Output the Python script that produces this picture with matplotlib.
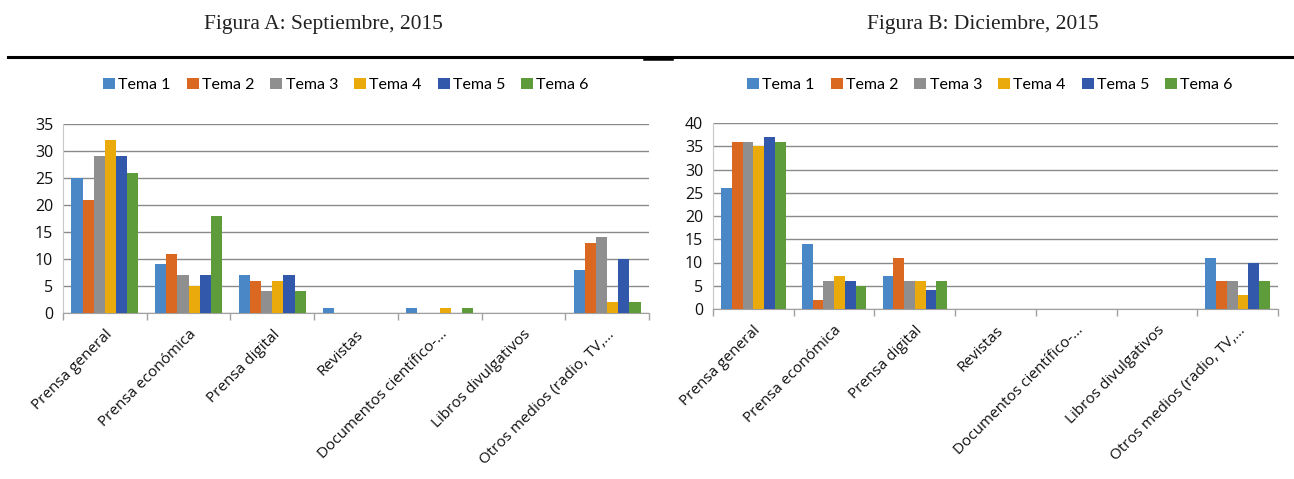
import numpy as np
import matplotlib
matplotlib.use("Agg")
import matplotlib.pyplot as plt
from matplotlib.lines import Line2D

# datos
categorias = ["Prensa general", "Prensa económica", "Prensa digital", "Revistas",
              "Documentos científico-…", "Libros divulgativos", "Otros medios (radio, TV,…"]
temas = ["Tema 1", "Tema 2", "Tema 3", "Tema 4", "Tema 5", "Tema 6"]
colores = ["#4A87C6", "#DA6820", "#8F8F8F", "#EBAA0C", "#3158AA", "#5E9B3A"]

# Figura A: septiembre 2015 (una lista por tema)
sep_t1 = [25, 9, 7, 1, 1, 0, 8]
sep_t2 = [21, 11, 6, 0, 0, 0, 13]
sep_t3 = [29, 7, 4, 0, 0, 0, 14]
sep_t4 = [32, 5, 6, 0, 1, 0, 2]
sep_t5 = [29, 7, 7, 0, 0, 0, 10]
sep_t6 = [26, 18, 4, 0, 1, 0, 2]

# Figura B: diciembre 2015
dic_t1 = [26, 14, 7, 0, 0, 0, 11]
dic_t2 = [36, 2, 11, 0, 0, 0, 6]
dic_t3 = [36, 6, 6, 0, 0, 0, 6]
dic_t4 = [35, 7, 6, 0, 0, 0, 3]
dic_t5 = [37, 6, 4, 0, 0, 0, 10]
dic_t6 = [36, 5, 6, 0, 0, 0, 6]

W, H = 1294, 479
fig = plt.figure(figsize=(W / 100, H / 100), dpi=100)


def px(left, top, right, bottom):
    return [left / W, 1 - bottom / H, (right - left) / W, (bottom - top) / H]


def panel(rect, series, ymax, title, title_x, legend_x):
    ax = fig.add_axes(rect)
    n = len(series)
    x = np.arange(len(categorias))
    bw = 0.8 / n
    for i, vals in enumerate(series):
        ax.bar(x - 0.4 + bw * (i + 0.5), vals, width=bw, color=colores[i],
               label=temas[i], zorder=3)
    ax.set_xlim(-0.5, len(categorias) - 0.5)
    ax.set_ylim(0, ymax)
    ax.set_yticks(np.arange(0, ymax + 1, 5))
    ax.grid(axis="y", color="#8A8A8A", lw=1.0, zorder=0)
    for s in ["top", "right"]:
        ax.spines[s].set_visible(False)
    ax.spines["left"].set_color("#C8C8C8")
    ax.spines["bottom"].set_color("#A0A0A0")
    ax.tick_params(axis="y", length=0, labelsize=11.5, pad=7, labelcolor="#111111")
    ax.set_xticks(x)
    ax.set_xticklabels(categorias, rotation=45, ha="right", rotation_mode="anchor",
                       fontsize=11, family="Open Sans", color="#111111")
    ax.tick_params(axis="x", which="major", length=0, pad=10)
    ax.set_xticks(np.arange(-0.5, len(categorias)), minor=True)
    ax.tick_params(axis="x", which="minor", length=5, color="#A0A0A0", width=1)
    for lab in ax.get_yticklabels():
        lab.set_family("Open Sans")
    fig.text(title_x / W, 1 - 25 / H, title, ha="center", va="center",
             fontsize=15.5, family="Liberation Serif", color="#222222")
    h, l = ax.get_legend_handles_labels()
    fig.legend(h, l, ncol=6, loc="center", bbox_to_anchor=(legend_x / W, 1 - 85 / H),
               frameon=False, handlelength=0.75, handleheight=0.75, handletextpad=0.2,
               columnspacing=1.0, prop={"family": "Lato", "size": 11.5})
    return ax


panel(px(63, 124, 649, 313), [sep_t1, sep_t2, sep_t3, sep_t4, sep_t5, sep_t6], 35,
      "Figura A: Septiembre, 2015", 323, 346)
panel(px(713, 123, 1278, 309), [dic_t1, dic_t2, dic_t3, dic_t4, dic_t5, dic_t6], 40,
      "Figura B: Diciembre, 2015", 983, 990)

# linea separadora bajo los titulos
fig.add_artist(Line2D([8 / W, 1], [1 - 57 / H] * 2, color="black", lw=2.2))
fig.add_artist(Line2D([644 / W, 672 / W], [1 - 59 / H] * 2, color="black", lw=1.8))

fig.savefig("out.png", dpi=100)
